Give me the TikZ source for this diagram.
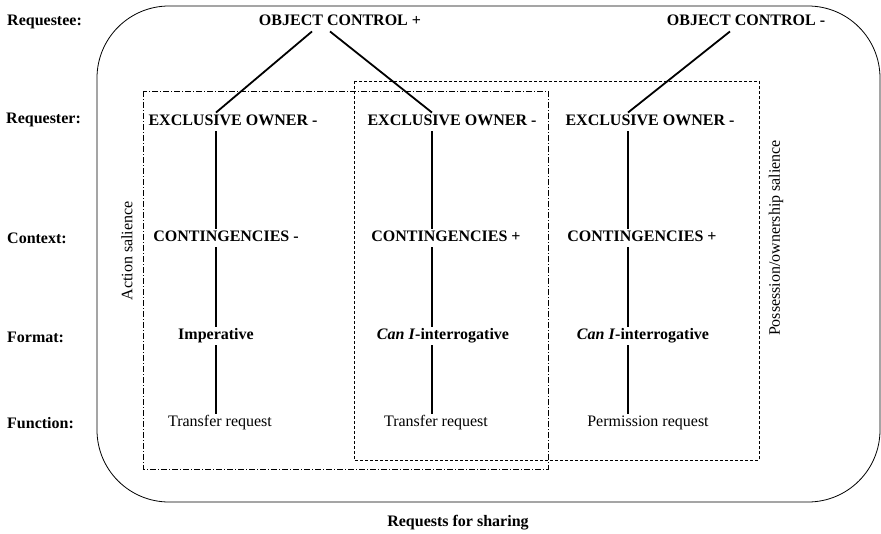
\documentclass[tikz,border=0pt]{standalone}
\usepackage{fontspec}
\setmainfont{Liberation Serif}
\usepackage{tikz}
\usetikzlibrary{calc}

\tikzset{
  lvl/.style={font=\fontsize{16}{19}\selectfont\bfseries, anchor=west, inner sep=0pt},
  cat/.style={font=\fontsize{16}{19}\selectfont\bfseries, inner xsep=0pt, inner ysep=2pt, text height=11pt, text depth=3.5pt},
  fun/.style={font=\fontsize{16}{19}\selectfont, inner xsep=0pt, inner ysep=2pt, text height=11pt, text depth=3.5pt},
  side/.style={font=\fontsize{16}{19}\selectfont, rotate=90, inner sep=0pt},
  link/.style={line width=1.8pt},
  actbox/.style={line width=0.8pt, dash pattern=on 6pt off 2pt on 1pt off 2pt},
  posbox/.style={line width=0.8pt, dash pattern=on 3pt off 2pt}
}

\begin{document}
\begin{tikzpicture}[x=1pt, y=-1pt]
                \useasboundingbox (0,0) rectangle (881,533);
                \draw[line width=0.8pt, rounded corners=72pt] (97,6) rectangle (880,502);
                \draw[actbox] (143,91) rectangle (548,469);
                \draw[posbox] (354,81) rectangle (759,460);
                \node[lvl] (rqe) at (7,22) {Requestee:};
                \node[lvl] (rqr) at (6,120) {Requester:};
                \node[lvl] (ctx) at (7,238) {Context:};
                \node[lvl] (fmt) at (7,337) {Format:};
                \node[lvl] (fnc) at (7,423) {Function:};
                \coordinate (a1) at (216,0);
                \coordinate (a2) at (432,0);
                \coordinate (a3) at (628,0);
                \node[cat] (oc1) at (340,22) {OBJECT CONTROL +};
                \node[cat] (oc2) at (746,22) {OBJECT CONTROL -};
                \node[cat] (eo1) at (233,122) {EXCLUSIVE OWNER -};
                \node[cat] (eo2) at (452,122) {EXCLUSIVE OWNER -};
                \node[cat] (eo3) at (650,122) {EXCLUSIVE OWNER -};
                \node[cat] (ct1) at (226,238) {CONTINGENCIES -};
                \node[cat] (ct2) at (446,238) {CONTINGENCIES +};
                \node[cat] (ct3) at (642,238) {CONTINGENCIES +};
                \node[cat] (fm1) at (216,336) {Imperative};
                \node[cat] (fm2) at (443,336) {\textit{Can I}-interrogative};
                \node[cat] (fm3) at (643,336) {\textit{Can I}-interrogative};
                \node[fun] (fn1) at (220,423) {Transfer request};
                \node[fun] (fn2) at (436,423) {Transfer request};
                \node[fun] (fn3) at (648,423) {Permission request};
                \node[side] (act) at (127,251) {Action salience};
                \node[side] (pos) at (776,238) {Possession/ownership salience};
                \node[cat] (rfs) at (458,523) {Requests for sharing};
                \draw[link] ([xshift=-28pt]oc1.south) -- (eo1.north -| a1);
                \draw[link] ([xshift=-10pt]oc1.south) -- (eo2.north -| a2);
                \draw[link] ([xshift=-16pt]oc2.south) -- (eo3.north -| a3);
                \foreach \c in {1,2,3}{
                  \draw[link] (eo\c.south -| a\c) -- (ct\c.north -| a\c);
                  \draw[link] (ct\c.south -| a\c) -- (fm\c.north -| a\c);
                  \draw[link] (fm\c.south -| a\c) -- (fn\c.north -| a\c);
                }
            \end{tikzpicture}
\end{document}
